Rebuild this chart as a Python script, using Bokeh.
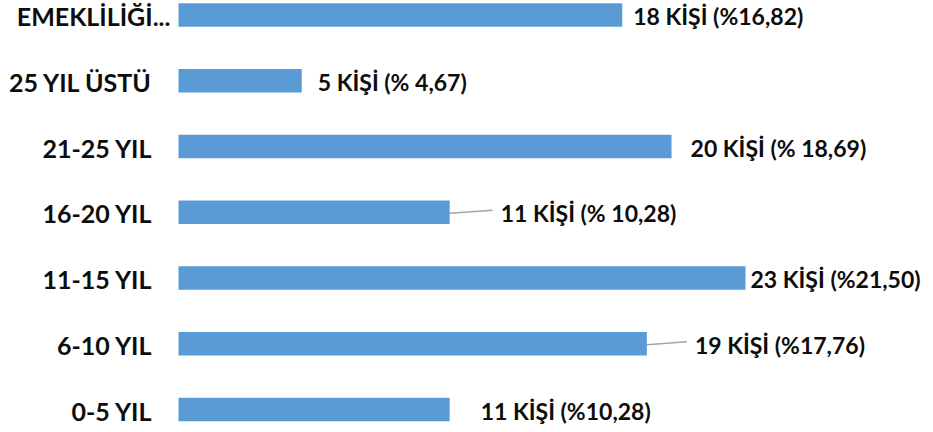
from bokeh.plotting import figure
from bokeh.models import ColumnDataSource, Range1d
from bokeh.core.properties import value
from bokeh.embed import file_html
from bokeh.resources import INLINE

# Data (bottom to top)
categories = ["0-5 YIL", "6-10 YIL", "11-15 YIL", "16-20 YIL", "21-25 YIL", "25 YIL ÜSTÜ", "EMEKLİLİĞİ..."]
counts = [11, 19, 23, 11, 20, 5, 18]
labels = ["11 KİŞİ (%10,28)", "19 KİŞİ (%17,76)", "23 KİŞİ (%21,50)", "11 KİŞİ (% 10,28)",
          "20 KİŞİ (% 18,69)", "5 KİŞİ (% 4,67)", "18 KİŞİ (%16,82)"]

# Styling: label offsets (px) and leader lines
label_offset_px = [31, 48, 5, 51, 19, 16, 11]
has_leader = [False, True, False, True, False, False, False]
cat_offset_px = [-26, -26, -26, -26, -26, -26, -8]

W, H = 925, 424
left_px = 178
px_per_unit = (745 - 178) / 23
x0 = -left_px / px_per_unit
x1 = (W - left_px) / px_per_unit
spacing = (409 - 14.5) / 6
y_bottom = -(H - 409) / spacing
y_top = 6 + 14.5 / spacing

ys = list(range(len(categories)))

p = figure(width=W, height=H, output_backend="svg", toolbar_location=None,
           x_range=Range1d(x0, x1), y_range=Range1d(y_bottom, y_top),
           min_border=0, min_border_left=0, min_border_right=0,
           min_border_top=0, min_border_bottom=0)
p.axis.visible = False
p.grid.visible = False
p.outline_line_color = None
p.background_fill_color = "white"

src = ColumnDataSource(dict(y=ys, v=counts, lab=labels, cat=categories,
                            off=label_offset_px, coff=cat_offset_px))

p.hbar(y="y", left=0, right="v", height=23.5 / spacing, source=src,
       fill_color="#5B9BD5", line_color=None)

# leader lines
lx0, lx1, ly0, ly1 = [], [], [], []
for y, v, off, hl in zip(ys, counts, label_offset_px, has_leader):
    if hl:
        lx0.append(v)
        lx1.append(v + (off - 8) / px_per_unit)
        ly0.append(y - 1.0 / spacing)
        ly1.append(y + 2.0 / spacing)
p.segment(x0=lx0, y0=ly0, x1=lx1, y1=ly1, line_color="#A6A6A6", line_width=1.5)

p.text(x="v", y="y", text="lab", x_offset="off", y_offset=1, source=src,
       text_align="left", text_baseline="middle",
       text_font=value("Lato"), text_font_style="bold", text_font_size="23px",
       text_color="#0D0D0D")

p.text(x=0, y="y", text="cat", x_offset="coff", y_offset=1, source=src,
       text_align="right", text_baseline="middle",
       text_font=value("Lato"), text_font_style="bold", text_font_size="25px",
       text_color="#0D0D0D")

open("out.html", "w").write(file_html(p, INLINE))
